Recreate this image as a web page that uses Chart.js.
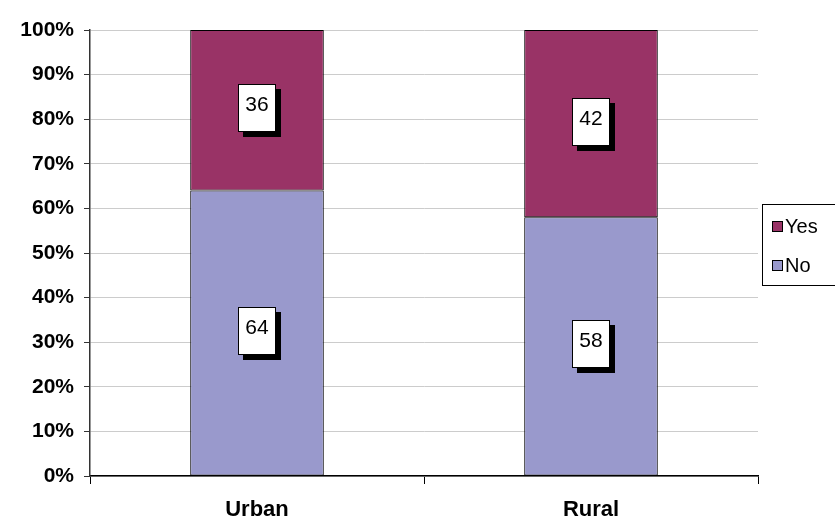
<!DOCTYPE html>
<html lang="en">
<head>
  <meta charset="UTF-8" />
  <title>Urban vs Rural</title>
  <style>
    * { margin: 0; padding: 0; box-sizing: border-box; }
    body { background: #fff; width: 835px; height: 521px; overflow: hidden; }
    #wrap { position: relative; width: 835px; height: 521px; }
  </style>
</head>
<body>
  <div id="wrap"><canvas id="chart"></canvas></div>

  <script src="https://cdn.jsdelivr.net/npm/chart.js"></script>
  <script>
    const categories = ['Urban', 'Rural'];
    const seriesNames = ['No', 'Yes'];
    const noValues = [64, 58];
    const yesValues = [36, 42];
    const yTicks = [0, 10, 20, 30, 40, 50, 60, 70, 80, 90, 100];

    const colYes = '#993366';
    const colNo = '#9999cc';
    const font = '"Liberation Sans", Arial, sans-serif';

    // white boxes with black drop shadow for the values
    const valueBoxes = {
      id: 'valueBoxes',
      afterDatasetsDraw(chart) {
        const ctx = chart.ctx;
        ctx.save();
        chart.data.datasets.forEach((ds, i) => {
          const meta = chart.getDatasetMeta(i);
          meta.data.forEach((bar, j) => {
            const cx = bar.x;
            const cy = (bar.y + bar.base) / 2 - 2;
            const w = 38, h = 48;
            const x = Math.round(cx - w / 2), y = Math.round(cy - h / 2);
            ctx.fillStyle = '#000';
            ctx.fillRect(x + 5, y + 5, w, h);
            ctx.fillStyle = '#fff';
            ctx.fillRect(x, y, w, h);
            ctx.strokeStyle = '#000';
            ctx.lineWidth = 1;
            ctx.strokeRect(x + 0.5, y + 0.5, w - 1, h - 1);
            ctx.fillStyle = '#000';
            ctx.font = '21px ' + font;
            ctx.textAlign = 'center';
            ctx.textBaseline = 'middle';
            ctx.fillText(String(ds.data[j]), x + w / 2, y + h / 2 - 3);
          });
        });
        ctx.restore();
      }
    };

    // legend box at right, like the old spreadsheet look
    const sideLegend = {
      id: 'sideLegend',
      afterDraw(chart) {
        const ctx = chart.ctx;
        ctx.save();
        ctx.strokeStyle = '#000';
        ctx.lineWidth = 1;
        ctx.fillStyle = '#fff';
        ctx.fillRect(762, 204, 80, 82);
        ctx.strokeRect(762.5, 204.5, 80, 81);
        const items = [
          { label: seriesNames[1], color: colYes, y: 221 },
          { label: seriesNames[0], color: colNo, y: 260 }
        ];
        items.forEach(it => {
          ctx.fillStyle = it.color;
          ctx.fillRect(772, it.y, 11, 11);
          ctx.strokeRect(772.5, it.y + 0.5, 10, 10);
          ctx.fillStyle = '#000';
          ctx.font = '20px ' + font;
          ctx.textAlign = 'left';
          ctx.textBaseline = 'middle';
          ctx.fillText(it.label, 785, it.y + 6);
        });
        ctx.restore();
      }
    };

    new Chart(document.getElementById('chart'), {
      type: 'bar',
      data: {
        labels: categories,
        datasets: [
          {
            label: seriesNames[0],
            data: noValues,
            backgroundColor: colNo,
            borderColor: '#000',
            borderWidth: 1,
            borderSkipped: false
          },
          {
            label: seriesNames[1],
            data: yesValues,
            backgroundColor: colYes,
            borderColor: '#000',
            borderWidth: 1,
            borderSkipped: false
          }
        ]
      },
      options: {
        responsive: true,
        maintainAspectRatio: false,
        animation: false,
        layout: { padding: { top: 30, right: 77, left: 0, bottom: 0 } },
        datasets: { bar: { barPercentage: 0.4, categoryPercentage: 1 } },
        plugins: {
          legend: { display: false },
          tooltip: { enabled: false }
        },
        scales: {
          x: {
            stacked: true,
            grid: {
              offset: true,
              drawOnChartArea: false,
              tickLength: 8,
              color: '#000'
            },
            border: { color: '#000', width: 1.5 },
            ticks: {
              color: '#000',
              padding: 13,
              font: { family: font, size: 22, weight: 'bold' }
            },
            afterFit(scale) { scale.height = 45; }
          },
          y: {
            stacked: true,
            min: 0,
            max: 100,
            afterBuildTicks(scale) {
              scale.ticks = yTicks.map(v => ({ value: v }));
            },
            grid: {
              color: '#cccccc',
              tickLength: 6,
              tickColor: '#333'
            },
            border: { color: '#333', width: 1.5 },
            ticks: {
              color: '#000',
              padding: 10,
              font: { family: font, size: 21, weight: 'bold' },
              callback: v => v + '%'
            },
            afterFit(scale) { scale.width = 90; }
          }
        }
      },
      plugins: [valueBoxes, sideLegend]
    });
  </script>
</body>
</html>
